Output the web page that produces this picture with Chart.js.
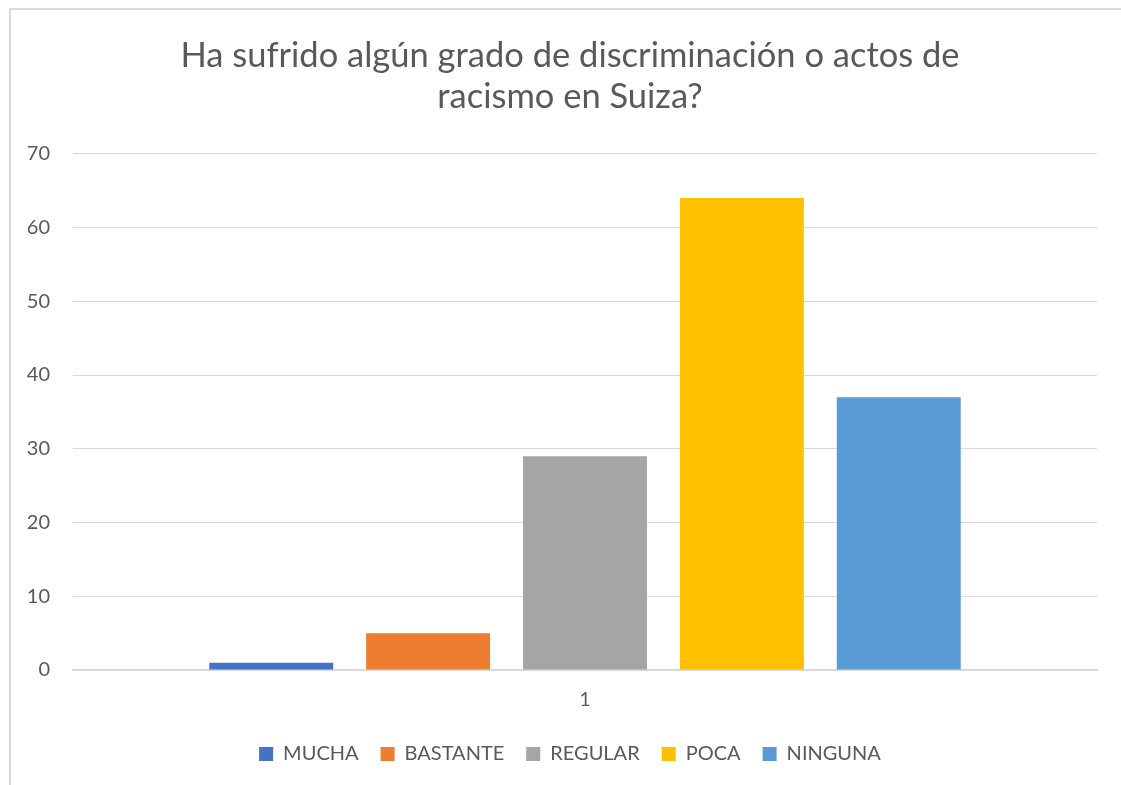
<!DOCTYPE html>
<html>
<head>
<meta charset="utf-8">
<script src="https://cdn.jsdelivr.net/npm/chart.js@4"></script>
<style>
  body { margin: 0; background: #fff; }
  #frame { position: absolute; left: 9px; top: 8px; width: 1120px; height: 785px;
           border-left: 2px solid #d9d9d9; border-top: 2px solid #d9d9d9; }
  #wrap { position: absolute; left: 0; top: 0; width: 1121px; height: 785px; }
</style>
</head>
<body>
<div id="frame"></div>
<div id="wrap"><canvas id="chart"></canvas></div>
<script>
// Chart data
const categories = ["1"];
const seriesNames = ["MUCHA", "BASTANTE", "REGULAR", "POCA", "NINGUNA"];
const seriesValues = [1, 5, 29, 64, 37];
const seriesColors = ["#4472C4", "#ED7D31", "#A5A5A5", "#FFC000", "#5B9BD5"];
const yTicks = [0, 10, 20, 30, 40, 50, 60, 70];

const fontFamily = "Lato, 'Open Sans', sans-serif";
const textColor = "#595959";

// let the y tick labels use the space left of the layout padding
const widenYAxis = {
  id: "widenYAxis",
  afterLayout(chart) {
    chart.scales.y.left = 0;
  },
};

const ctx = document.getElementById("chart").getContext("2d");
new Chart(ctx, {
  type: "bar",
  data: {
    labels: categories,
    datasets: seriesNames.map((name, i) => ({
      label: name,
      data: [seriesValues[i]],
      backgroundColor: seriesColors[i],
      categoryPercentage: 0.766,
      barPercentage: 0.79,
    })),
  },
  options: {
    responsive: true,
    maintainAspectRatio: false,
    animation: false,
    layout: { padding: { left: 43, right: 24, top: 35, bottom: 11 } },
    plugins: {
      title: {
        display: true,
        text: ["Ha sufrido algún grado de discriminación o actos de", "racismo en Suiza?"],
        color: textColor,
        font: { family: fontFamily, size: 34.5, weight: "normal" },
        lineHeight: 1.35,
        padding: { top: 0, bottom: 36 },
      },
      legend: {
        position: "bottom",
        labels: {
          color: textColor,
          font: { family: fontFamily, size: 20 },
          boxWidth: 14,
          boxHeight: 14,
          padding: 22,
        },
      },
      tooltip: { enabled: false },
    },
    scales: {
      x: {
        grid: { display: false },
        border: { color: "#d9d9d9", width: 2 },
        ticks: { color: textColor, font: { family: fontFamily, size: 19, lineHeight: 1.0 }, padding: 12.5 },
      },
      y: {
        min: 0,
        max: 70,
        afterBuildTicks: (axis) => { axis.ticks = yTicks.map((v) => ({ value: v })); },
        afterFit: (axis) => { axis.width = 30; },
        grid: { color: "#d9d9d9", drawTicks: false },
        border: { display: false },
        ticks: { color: textColor, font: { family: fontFamily, size: 20 }, padding: 23 },
      },
    },
  },
  plugins: [widenYAxis],
});
</script>
</body>
</html>
